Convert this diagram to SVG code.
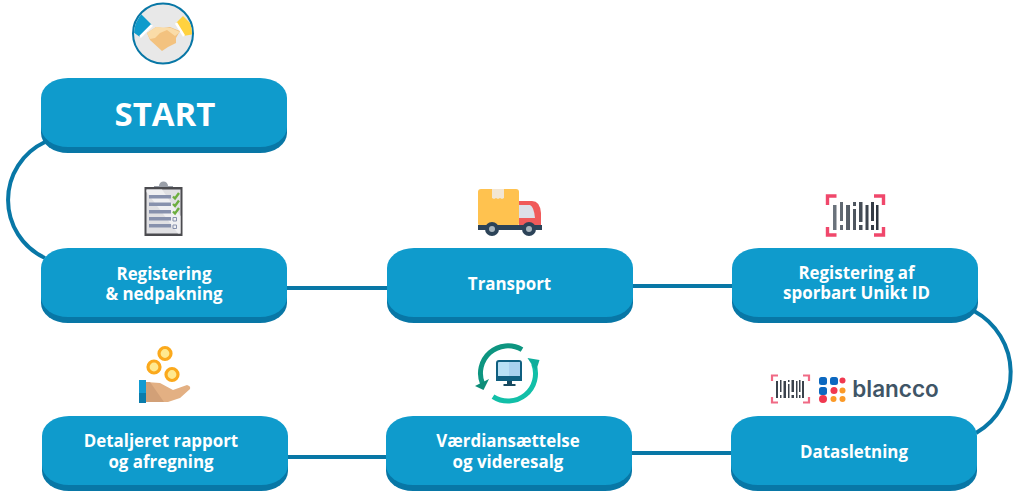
<svg xmlns="http://www.w3.org/2000/svg" width="1019" height="496" viewBox="0 0 1019 496">
<style>
.b{fill:#0f9bcc}.s{fill:#0877a6}
.c{fill:none;stroke:#0877a6;stroke-width:4}
.coin{fill:#ffe98f;stroke:#fba91c;stroke-width:3.2}
text{font-family:"Open Sans","Noto Sans",sans-serif;font-weight:700;fill:#fff;text-anchor:middle;font-size:16.9px}
</style>
<defs>
<g id="btn"><rect class="s" x="0" y="6" width="246" height="69" rx="27" ry="20"/><rect class="b" x="0" y="0" width="246" height="69" rx="27" ry="20"/></g>
<clipPath id="hc"><circle cx="163" cy="33.500" r="29"/></clipPath>
<linearGradient id="bars" x1="0" x2="1" y1="0" y2="0"><stop offset="0" stop-color="#6d757e"/><stop offset="1" stop-color="#2c343e"/></linearGradient>
</defs>
<rect width="1019" height="496" fill="#fff"/>
<g id="connectors">
<path class="c" d="M45 142A64 64 0 0 0 45 258"/>
<path class="c" d="M287 288H388"/>
<path class="c" d="M632 286H733"/>
<path class="c" d="M974 311A70 70 0 0 1 976 433"/>
<path class="c" d="M287 457H387"/>
<path class="c" d="M631 453H732"/>
</g>
<g id="start-icon">
<circle cx="163" cy="33.500" r="30" fill="#e8e8e8" stroke="#0877a6" stroke-width="2"/>
<g clip-path="url(#hc)">
<path d="M141 14L152 25L140 37L130 30Z" fill="#0f9bcc"/>
<path d="M176 23L183 16L195 28L195 34L183 36Z" fill="#ffd23f"/>
<path d="M152 25L140 37M176 23L184 36" stroke="#fff" stroke-width="2.500" fill="none"/>
</g>
<path d="M147 33L156 27L163 28L170 27L180 31L176 38L176 43L168 47L162 51L150 40Z" fill="#f3c27f"/>
<path d="M147 33L156 27L171 28L180 32L175 36L167 30L160 33L155 38L150 39Z" fill="#fadca8"/>
</g>
<g id="start"><use href="#btn" x="41" y="78"/><text x="165" y="126" style="font-size:33px">START</text></g>
<g id="registering-icon">
<path d="M159 186a4.500 4.500 0 0 1 9 0h5v4h-19v-4Z" fill="#9a9fa8"/>
<rect x="144.500" y="187" width="38" height="49" fill="#4b4b4f"/>
<rect x="146.500" y="189.500" width="34" height="44" fill="#e0e0e3"/>
<path d="M146.500 189.500H162L180.500 216V233.500H178L146.500 192Z" fill="#f0f0f2"/>
<path d="M149 195h22v3.500h-22ZM149 202.500h22v3.500h-22ZM149 210h22v3.500h-22ZM149 217h22v3.500h-22ZM149 224h22v3.500h-22Z" fill="#8791ad"/>
<path d="M173 196.500l2 2 4-5.500M173 204l2 2 4-5.500M173 211.500l2 2 4-5.500" fill="none" stroke="#6cae3e" stroke-width="2.400"/>
<path d="M173 217.500h3.500v3.500h-3.500ZM173 225h3.500v3.500h-3.500Z" fill="none" stroke="#8791ad"/>
</g>
<g id="registering"><use href="#btn" x="41" y="248"/><text x="164" y="279.500">Registering<tspan x="164" y="300">&amp; nedpakning</tspan></text></g>
<g id="transport-icon">
<rect x="478" y="189" width="41" height="37" rx="3" fill="#ffc24f"/>
<path d="M492 189h12v9l-2 1-2-1-2 1-2-1-2 1-2-1Z" fill="#f2e6d4"/>
<path d="M519 201h13q8 0 9 12v13h-22Z" fill="#f05a5a"/>
<path d="M519 205h11q4 2 5 13h-16Z" fill="#dde0e8"/>
<rect x="478" y="225" width="64" height="5" fill="#2c4358"/>
<circle cx="492" cy="229" r="7" fill="#2c4358"/><circle cx="492" cy="229" r="3" fill="#a9b6be"/>
<circle cx="529" cy="229" r="7" fill="#2c4358"/><circle cx="529" cy="229" r="3" fill="#a9b6be"/>
</g>
<g id="transport"><use href="#btn" x="387" y="248"/><text x="509.500" y="289.500">Transport</text></g>
<g id="unikt-icon">
<path d="M827.500 205v-9h9M874 196h9.500v9M827.500 227v8h9M874 235h9.500v-8" fill="none" stroke="#f0476b" stroke-width="3.400"/>
<path d="M833 205h3.500v25h-3.500ZM840 202h3v19h-3ZM840 225h3v5h-3ZM846 205h4v25h-4ZM853 202h3v4h-3ZM853 209h3v21h-3ZM859 202h3.500v20h-3.500ZM859 225h3.500v5h-3.500ZM865.500 205h3v25h-3ZM871 202h3v19h-3ZM871 225h3v5h-3ZM876 205h2.500v25h-2.500Z" fill="url(#bars)"/>
</g>
<g id="unikt"><use href="#btn" x="732" y="248"/><text x="856.500" y="278.500">Registering af<tspan x="856.500" y="299">sporbart Unikt ID</tspan></text></g>
<g id="blancco-icon">
<path d="M772 381v-5.500h6M803 375.500h6v5.500M772 397v5.500h6M803 402.500h6v-5.500" fill="none" stroke="#f06a85" stroke-width="2.200"/>
<path d="M776 381h2v17h-2ZM780 380h1.500v12h-1.500ZM780 395h1.500v3h-1.500ZM783.500 381h2.500v17h-2.500ZM788 380h1.500v2h-1.500ZM788 384h1.500v14h-1.500ZM791.500 380h2.500v12h-2.500ZM791.500 395h2.500v3h-2.500ZM796 381h1.500v17h-1.500ZM799 380h1.500v12h-1.500ZM799 395h1.500v3h-1.500ZM802 381h2v17h-2Z" fill="#3a424c"/>
<rect x="819" y="377" width="8" height="8" rx="2.500" fill="#0c68c0"/><rect x="830" y="377" width="8" height="8" rx="2.500" fill="#0c68c0"/><circle cx="842.500" cy="380.500" r="3" fill="#f0384f"/>
<rect x="819" y="387" width="8" height="8" rx="2.500" fill="#0c68c0"/><circle cx="834" cy="390.500" r="3.500" fill="#f0384f"/><circle cx="842.500" cy="390.500" r="3" fill="#fb9a28"/>
<circle cx="823" cy="399" r="4" fill="#f0384f"/><circle cx="833.500" cy="399" r="3" fill="#fb9a28"/><circle cx="842.500" cy="399" r="3" fill="#fb9a28"/>
<text x="895.500" y="397" style="font-family:Inter,sans-serif;font-weight:600;font-size:22.500px;fill:#3f5566">blancco</text>
</g>
<g id="datasletning"><use href="#btn" x="731" y="416"/><text x="854" y="457.500">Datasletning</text></g>
<g id="resale-icon">
<path d="M482.700 384.200A27.500 27.500 0 0 1 522 349.700" fill="none" stroke="#0d9580" stroke-width="5"/>
<path d="M475 386L489 379L483.500 390Z" fill="#0d8d78"/>
<path d="M533.600 363.500A27.500 27.500 0 0 1 493 396.600" fill="none" stroke="#12bfa8" stroke-width="5"/>
<path d="M527.500 358L539.500 360L536 371Z" fill="#0fae9c"/>
<rect x="497" y="361" width="24" height="19" rx="2" fill="#b8e0f5" stroke="#0f5f80" stroke-width="2"/>
<rect x="509" y="362" width="11" height="14" fill="#a8d0ee"/>
<rect x="496" y="376" width="26" height="5" fill="#0f5f80"/>
<path d="M507 381h5v3h3.500v2h-12v-2h3.500Z" fill="#174a60"/>
</g>
<g id="resale"><use href="#btn" x="386" y="416"/><text x="508" y="447">Værdiansættelse<tspan x="508" y="468">og videresalg</tspan></text></g>
<g id="report-icon">
<circle class="coin" cx="165" cy="353.500" r="6"/>
<circle class="coin" cx="154" cy="367" r="6"/>
<circle class="coin" cx="172" cy="374.500" r="6"/>
<path d="M146 382L160 383L173 390L187 385Q191 386 190 389L180 398L168 402H146Z" fill="#e3b083"/>
<path d="M146 382L150 382L164 402H146Z" fill="#d2a077"/>
<rect x="139" y="380" width="7" height="13" fill="#119bd2"/><rect x="139" y="393" width="7" height="10" fill="#0b7cab"/>
</g>
<g id="report"><use href="#btn" x="42" y="416"/><text x="161" y="447">Detaljeret rapport<tspan x="161" y="467.500">og afregning</tspan></text></g>
</svg>
